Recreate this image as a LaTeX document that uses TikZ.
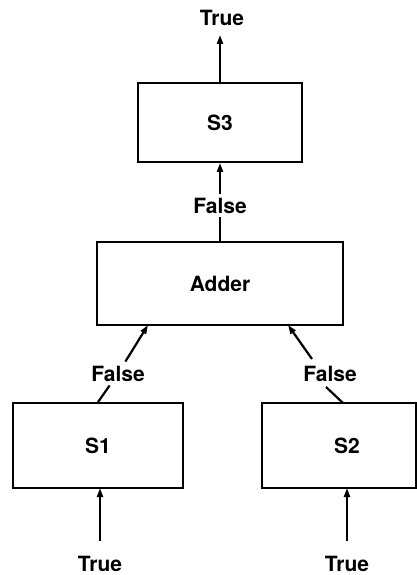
\documentclass[tikz,border=0pt]{standalone}
\usepackage{fontspec}
\setmainfont{TeX Gyre Heros}
\usetikzlibrary{arrows.meta}
\begin{document}
\begin{tikzpicture}[x=1pt, y=-1pt,
  block/.style={draw, line width=1.9pt, rectangle, inner sep=0pt, font=\bfseries\fontsize{21}{24}\selectfont},
  tag/.style={inner sep=4pt, font=\bfseries\fontsize{21}{24}\selectfont},
  wire/.style={line width=2.2pt},
  flow/.style={wire, -{Triangle[width=6pt,length=9pt]}}]
  \useasboundingbox (0,0) rectangle (417,575);

  % boxes
  \node[block, minimum width=164pt, minimum height=79pt] (S3) at (220,122.5) {S3};
  \node[block, minimum width=246pt, minimum height=83pt] (Add) at (220,283.5) {Adder};
  \node[block, minimum width=170pt, minimum height=85pt] (S1) at (98,445.5) {S1};
  \node[block, minimum width=154pt, minimum height=85pt] (S2) at (339,445.5) {\hspace*{16pt}S2};

  % signal values
  \node[tag] (tTop) at (222,18) {True};
  \node[tag] (fMid) at (220,205.5) {False};
  \node[tag] (fL) at (118,373.5) {False};
  \node[tag] (fR) at (330,373.5) {False};
  \node[tag] (tL) at (100,563.5) {True};
  \node[tag] (tR) at (347,563.5) {True};

  % contact points on the box edges
  \coordinate (aL) at (148,325);
  \coordinate (aR) at (288,325);
  \coordinate (rTail) at (312,359);
  \coordinate (rFoot) at (326,387);
  \coordinate (s2Top) at (343,403);
  \coordinate (s1In) at (100,488);
  \coordinate (s2In) at (347,488);

  % connectors
  \draw[flow, shorten >=5pt] (S3.north) -- (S3.north |- tTop.south);
  \draw[flow] (fMid.north) -- (S3.south);
  \draw[wire] (fMid.south) -- (Add.north);
  \draw[flow] (fL) -- (aL);
  \draw[wire] (fL) -- (S1.north);
  \draw[flow] (rTail) -- (aR);
  \draw[wire] (rFoot) -- (s2Top);
  \draw[flow] (s1In |- tL.north) ++(0,-11) -- (s1In);
  \draw[flow] (s2In |- tR.north) ++(0,-11) -- (s2In);
\end{tikzpicture}
\end{document}
